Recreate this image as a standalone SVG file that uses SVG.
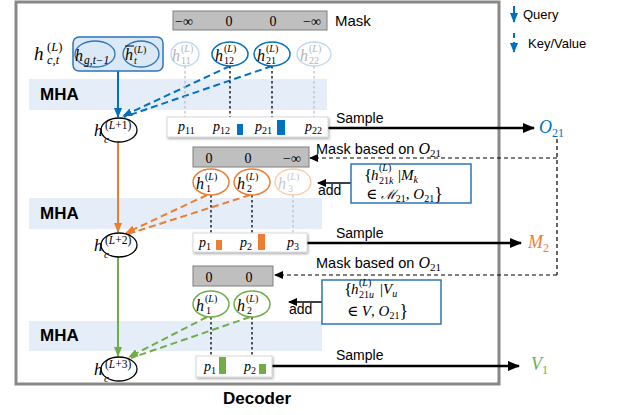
<svg xmlns="http://www.w3.org/2000/svg" width="621" height="415" viewBox="0 0 621 415">
<defs>
<marker id="mB" markerUnits="userSpaceOnUse" markerWidth="10" markerHeight="8" refX="9" refY="4" orient="auto"><path d="M0,0 L10,4 L0,8 z" fill="#0070c0"/></marker>
<marker id="mO" markerUnits="userSpaceOnUse" markerWidth="10" markerHeight="8" refX="9" refY="4" orient="auto"><path d="M0,0 L10,4 L0,8 z" fill="#ed7d31"/></marker>
<marker id="mG" markerUnits="userSpaceOnUse" markerWidth="10" markerHeight="8" refX="9" refY="4" orient="auto"><path d="M0,0 L10,4 L0,8 z" fill="#70ad47"/></marker>
<marker id="mK" markerUnits="userSpaceOnUse" markerWidth="12" markerHeight="10" refX="11" refY="5" orient="auto"><path d="M0,0 L12,5 L0,10 z" fill="#000"/></marker>
<marker id="mk" markerUnits="userSpaceOnUse" markerWidth="9" markerHeight="8" refX="8" refY="4" orient="auto"><path d="M0,0 L9,4 L0,8 z" fill="#000"/></marker>
<filter id="sh" x="-10%" y="-20%" width="130%" height="160%"><feDropShadow dx="1" dy="1.5" stdDeviation="1.2" flood-color="#000" flood-opacity="0.35"/></filter>
</defs>
<style>
.sans{font-family:"Liberation Sans",Arial,sans-serif;fill:#000}
.b{font-weight:bold}
.m{font-family:"Liberation Serif","DejaVu Serif",serif;font-style:italic}
.r{font-family:"Liberation Serif","DejaVu Serif",serif}
.band{fill:#e4edf8}
.mask{fill:#bfbfbf;stroke:#7f7f7f;stroke-width:1}
.pbox{fill:#fff;stroke:#d0d0d0;stroke-width:0.8;filter:url(#sh)}
.hc{fill:#fff;stroke:#000;stroke-width:1.3}
.dot{stroke:#000;stroke-width:1.3;stroke-dasharray:2.5,2.5;fill:none}
.dotg{stroke:#bdbdbd;stroke-width:1.3;stroke-dasharray:2.5,2.5;fill:none}
.dash{stroke:#000;stroke-width:1.2;stroke-dasharray:4,3;fill:none}
.samp{stroke:#000;stroke-width:2.5;fill:none}
.tb{fill:#fff;stroke:#2e75b6;stroke-width:1.5}
</style>
<rect x="0" y="0" width="621" height="415" fill="#fff"/>

<!-- MHA bands -->
<g id="bands">
<rect class="band" x="29" y="79" width="298" height="31"/>
<rect class="band" x="29" y="198" width="293" height="31"/>
<rect class="band" x="29" y="321" width="293" height="30"/>
<text class="sans b" x="40" y="100" font-size="17">MHA</text>
<text class="sans b" x="40" y="219" font-size="17">MHA</text>
<text class="sans b" x="40" y="341" font-size="17">MHA</text>
</g>

<!-- frame -->
<rect id="frame" x="16" y="2" width="483" height="382" fill="none" stroke="#888" stroke-width="3"/>
<text class="sans b" x="257" y="404" font-size="17" text-anchor="middle">Decoder</text>

<!-- legend -->
<g id="legend">
<line x1="514" y1="6" x2="514" y2="22" stroke="#0070c0" stroke-width="2" marker-end="url(#mB)"/>
<text class="sans" x="523" y="19" font-size="13">Query</text>
<line x1="514" y1="33" x2="514" y2="52" stroke="#0070c0" stroke-width="2" stroke-dasharray="5,4" marker-end="url(#mB)"/>
<text class="sans" x="528" y="48" font-size="13">Key/Value</text>
</g>

<!-- connectors -->
<g id="connectors">
<line x1="118" y1="71" x2="118" y2="117" stroke="#0070c0" stroke-width="2" marker-end="url(#mB)"/>
<line x1="230" y1="66" x2="123" y2="116" stroke="#0070c0" stroke-width="2" stroke-dasharray="7,4" marker-end="url(#mB)"/>
<line x1="272" y1="66" x2="124" y2="117" stroke="#0070c0" stroke-width="2" stroke-dasharray="7,4"/>
<line x1="118" y1="142" x2="118" y2="232" stroke="#ed7d31" stroke-width="2" marker-end="url(#mO)"/>
<line x1="207" y1="195" x2="126" y2="233" stroke="#ed7d31" stroke-width="2" stroke-dasharray="7,4" marker-end="url(#mO)"/>
<line x1="250" y1="195" x2="128" y2="234" stroke="#ed7d31" stroke-width="2" stroke-dasharray="7,4"/>
<line x1="118" y1="257" x2="118" y2="356" stroke="#70ad47" stroke-width="2" marker-end="url(#mG)"/>
<line x1="207" y1="317" x2="129" y2="357" stroke="#70ad47" stroke-width="2" stroke-dasharray="7,4" marker-end="url(#mG)"/>
<line x1="250" y1="317" x2="131" y2="358" stroke="#70ad47" stroke-width="2" stroke-dasharray="7,4"/>

<line class="dotg" x1="185" y1="66" x2="185" y2="117"/>
<line class="dot" x1="230" y1="66" x2="230" y2="117"/>
<line class="dot" x1="272" y1="66" x2="272" y2="117"/>
<line class="dotg" x1="314" y1="66" x2="314" y2="117"/>
<line class="dot" x1="211" y1="195" x2="211" y2="233"/>
<line class="dot" x1="252" y1="195" x2="252" y2="233"/>
<line class="dotg" x1="293" y1="195" x2="293" y2="233"/>
<line class="dot" x1="211" y1="317" x2="211" y2="356"/>
<line class="dot" x1="252" y1="317" x2="252" y2="356"/>

<line class="samp" x1="328" y1="128" x2="534" y2="128" marker-end="url(#mK)"/>
<line class="samp" x1="307" y1="243" x2="521" y2="243" marker-end="url(#mK)"/>
<line class="samp" x1="272" y1="366" x2="519" y2="366" marker-end="url(#mK)"/>

<path class="dash" d="M557,139 L557,275"/>
<line class="dash" x1="557" y1="158" x2="310" y2="158" marker-end="url(#mk)"/>
<line class="dash" x1="557" y1="275" x2="275" y2="275" marker-end="url(#mk)"/>

<line x1="351" y1="183" x2="318" y2="183" stroke="#000" stroke-width="1.5" marker-end="url(#mk)"/>
<line x1="322" y1="302" x2="289" y2="302" stroke="#000" stroke-width="1.5" marker-end="url(#mk)"/>
</g>

<!-- Row 1 -->
<g id="mask1">
<rect class="mask" x="173" y="11" width="154" height="19"/>
<text class="r" font-size="14" y="26" text-anchor="middle"><tspan x="184">−∞</tspan><tspan x="229">0</tspan><tspan x="273">0</tspan><tspan x="312">−∞</tspan></text>
<text class="sans" x="335" y="26" font-size="15">Mask</text>
</g>

<g id="hct">
<text class="m" x="34" y="60" font-size="19">h</text>
<text class="r" x="47" y="51" font-size="12.5">(<tspan font-style="italic">L</tspan>)</text>
<text class="m" x="47" y="64" font-size="12.5">c,t</text>
</g>
<g id="query1">
<rect x="73" y="37" width="90" height="34" rx="6" fill="#dbe8f6" stroke="#2e75b6" stroke-width="1.5"/>
<ellipse cx="95" cy="54" rx="20" ry="13" fill="none" stroke="#2e75b6" stroke-width="1.3"/>
<ellipse cx="141" cy="54" rx="18" ry="13" fill="none" stroke="#2e75b6" stroke-width="1.3"/>
<text class="m" x="75" y="61" font-size="16">h</text>
<text class="m" x="84" y="64" font-size="11.5">g,t−1</text>
<text class="m" x="125" y="60" font-size="16">h</text>
<line x1="125" y1="46" x2="134" y2="46" stroke="#000" stroke-width="1"/>
<text class="r" x="134" y="53" font-size="10">(<tspan font-style="italic">L</tspan>)</text>
<text class="m" x="134" y="64" font-size="10">t</text>
</g>

<g id="h11">
<ellipse cx="185" cy="54" rx="14" ry="12" fill="#fff" stroke="#bdd7ee" stroke-width="1.3"/>
<text class="m" x="172" y="61" font-size="16" fill="#b5b5b5">h</text>
<text class="r" x="181" y="52" font-size="10" fill="#b5b5b5">(<tspan font-style="italic">L</tspan>)</text>
<text class="r" x="181" y="64" font-size="10" fill="#b5b5b5">11</text>
</g>
<g id="h12">
<ellipse cx="230" cy="54" rx="18" ry="12" fill="#fff" stroke="#0070c0" stroke-width="1.5"/>
<text class="m" x="215" y="61" font-size="16">h</text>
<text class="r" x="224" y="52" font-size="10">(<tspan font-style="italic">L</tspan>)</text>
<text class="r" x="224" y="64" font-size="10">12</text>
</g>
<g id="h21">
<ellipse cx="272" cy="54" rx="18" ry="12" fill="#fff" stroke="#0070c0" stroke-width="1.5"/>
<text class="m" x="257" y="61" font-size="16">h</text>
<text class="r" x="266" y="52" font-size="10">(<tspan font-style="italic">L</tspan>)</text>
<text class="r" x="266" y="64" font-size="10">21</text>
</g>
<g id="h22">
<ellipse cx="314" cy="54" rx="17" ry="12" fill="#fff" stroke="#bdd7ee" stroke-width="1.3"/>
<text class="m" x="300" y="61" font-size="16" fill="#b5b5b5">h</text>
<text class="r" x="309" y="52" font-size="10" fill="#b5b5b5">(<tspan font-style="italic">L</tspan>)</text>
<text class="r" x="309" y="64" font-size="10" fill="#b5b5b5">22</text>
</g>

<g id="p1box">
<rect class="pbox" x="167" y="117" width="161" height="20"/>
<rect x="237" y="124" width="6" height="11" fill="#0070c0"/>
<rect x="277" y="120" width="8" height="15" fill="#0070c0"/>
<text class="m" x="178" y="131" font-size="14">p<tspan font-style="normal" font-size="10" dy="3">11</tspan></text>
<text class="m" x="213" y="131" font-size="14">p<tspan font-style="normal" font-size="10" dy="3">12</tspan></text>
<text class="m" x="255" y="131" font-size="14">p<tspan font-style="normal" font-size="10" dy="3">21</tspan></text>
<text class="m" x="305" y="131" font-size="14">p<tspan font-style="normal" font-size="10" dy="3">22</tspan></text>
</g>

<g id="hc1">
<ellipse class="hc" cx="119" cy="130" rx="18" ry="12"/>
<text class="m" x="94" y="136" font-size="17">h</text>
<text class="r" x="105" y="128.5" font-size="11.5">(<tspan font-style="italic">L</tspan>+1)</text>
<text class="m" x="104" y="143" font-size="11">c</text>
</g>

<!-- Row 2 -->
<g id="mask2">
<rect class="mask" x="193" y="147" width="116" height="20"/>
<text class="r" font-size="14" y="163" text-anchor="middle"><tspan x="209">0</tspan><tspan x="248">0</tspan><tspan x="292">−∞</tspan></text>
<text class="sans" x="316" y="154" font-size="14.5">Mask based on <tspan class="m" font-size="16">O</tspan><tspan class="r" font-size="11" dy="3">21</tspan></text>
</g>
<g id="h1o">
<ellipse cx="211" cy="182" rx="18" ry="13" fill="#fff" stroke="#ed7d31" stroke-width="1.5"/>
<text class="m" x="196" y="189" font-size="16">h</text>
<text class="r" x="205" y="180" font-size="10">(<tspan font-style="italic">L</tspan>)</text>
<text class="r" x="206" y="192" font-size="10">1</text>
</g>
<g id="h2o">
<ellipse cx="252" cy="182" rx="18" ry="13" fill="#fff" stroke="#ed7d31" stroke-width="1.5"/>
<text class="m" x="237" y="189" font-size="16">h</text>
<text class="r" x="246" y="180" font-size="10">(<tspan font-style="italic">L</tspan>)</text>
<text class="r" x="247" y="192" font-size="10">2</text>
</g>
<g id="h3o">
<ellipse cx="293" cy="182" rx="18" ry="13" fill="#fff" stroke="#f8cbad" stroke-width="1.3"/>
<text class="m" x="278" y="189" font-size="16" fill="#c8c8c8">h</text>
<text class="r" x="287" y="180" font-size="10" fill="#c8c8c8">(<tspan font-style="italic">L</tspan>)</text>
<text class="r" x="288" y="192" font-size="10" fill="#c8c8c8">3</text>
</g>
<g id="tb2">
<rect class="tb" x="351" y="164" width="120" height="39"/>
<text class="r" x="364" y="181" font-size="17">{</text>
<text class="m" x="371" y="180" font-size="15">h</text>
<text class="r" x="379" y="171" font-size="10">(<tspan font-style="italic">L</tspan>)</text>
<text class="r" x="379" y="184" font-size="10">21<tspan font-style="italic">k</tspan></text>
<text class="r" x="398" y="180" font-size="15">|<tspan class="m">M</tspan><tspan class="m" font-size="10" dy="3">k</tspan></text>
<text class="r" x="366" y="199" font-size="15">∈ <tspan font-family="DejaVu Serif,serif" font-style="italic" font-size="13">ℳ</tspan><tspan font-size="10" dy="3">21</tspan><tspan dy="-3">, </tspan><tspan class="m">O</tspan><tspan font-size="10" dy="3">21</tspan><tspan font-size="18" dy="-2">}</tspan></text>
</g>
<g id="p2box">
<rect class="pbox" x="193" y="233" width="114" height="19"/>
<rect x="216" y="240" width="6" height="10" fill="#ed7d31"/>
<rect x="258" y="234" width="7" height="16" fill="#ed7d31"/>
<text class="m" x="199" y="247" font-size="14">p<tspan font-style="normal" font-size="10" dy="3">1</tspan></text>
<text class="m" x="240" y="247" font-size="14">p<tspan font-style="normal" font-size="10" dy="3">2</tspan></text>
<text class="m" x="287" y="247" font-size="14">p<tspan font-style="normal" font-size="10" dy="3">3</tspan></text>
</g>
<g id="hc2">
<ellipse class="hc" cx="119" cy="245" rx="18" ry="12"/>
<text class="m" x="94" y="251" font-size="17">h</text>
<text class="r" x="105" y="243.5" font-size="11.5">(<tspan font-style="italic">L</tspan>+2)</text>
<text class="m" x="104" y="258" font-size="11">c</text>
</g>

<!-- Row 3 -->
<g id="mask3">
<rect class="mask" x="193" y="266" width="80" height="20"/>
<text class="r" font-size="14" y="282" text-anchor="middle"><tspan x="209">0</tspan><tspan x="249">0</tspan></text>
<text class="sans" x="316" y="268" font-size="14.5">Mask based on <tspan class="m" font-size="16">O</tspan><tspan class="r" font-size="11" dy="3">21</tspan></text>
</g>
<g id="h1g">
<ellipse cx="211" cy="304" rx="18" ry="13" fill="#fff" stroke="#70ad47" stroke-width="1.5"/>
<text class="m" x="196" y="311" font-size="16">h</text>
<text class="r" x="205" y="302" font-size="10">(<tspan font-style="italic">L</tspan>)</text>
<text class="r" x="206" y="314" font-size="10">1</text>
</g>
<g id="h2g">
<ellipse cx="252" cy="304" rx="18" ry="13" fill="#fff" stroke="#70ad47" stroke-width="1.5"/>
<text class="m" x="237" y="311" font-size="16">h</text>
<text class="r" x="246" y="302" font-size="10">(<tspan font-style="italic">L</tspan>)</text>
<text class="r" x="247" y="314" font-size="10">2</text>
</g>
<g id="tb3">
<rect class="tb" x="322" y="280" width="119" height="44"/>
<text class="r" x="344" y="295" font-size="17">{</text>
<text class="m" x="351" y="294" font-size="15">h</text>
<text class="r" x="359" y="286" font-size="10">(<tspan font-style="italic">L</tspan>)</text>
<text class="r" x="359" y="298" font-size="10">21<tspan font-style="italic">u</tspan></text>
<text class="r" x="380" y="294" font-size="15">|<tspan class="m">V</tspan><tspan class="m" font-size="10" dy="3">u</tspan></text>
<text class="r" x="347" y="316" font-size="15">∈ <tspan class="m">V</tspan>, <tspan class="m">O</tspan><tspan font-size="10" dy="3">21</tspan><tspan font-size="18" dy="-2">}</tspan></text>
</g>
<g id="p3box">
<rect class="pbox" x="196" y="356" width="76" height="21"/>
<rect x="219" y="357" width="7" height="17" fill="#70ad47"/>
<rect x="259" y="364" width="7" height="10" fill="#70ad47"/>
<text class="m" x="204" y="371" font-size="14">p<tspan font-style="normal" font-size="10" dy="3">1</tspan></text>
<text class="m" x="244" y="371" font-size="14">p<tspan font-style="normal" font-size="10" dy="3">2</tspan></text>
</g>
<g id="hc3">
<ellipse class="hc" cx="119" cy="369" rx="18" ry="12"/>
<text class="m" x="94" y="375" font-size="17">h</text>
<text class="r" x="105" y="367.5" font-size="11.5">(<tspan font-style="italic">L</tspan>+3)</text>
<text class="m" x="104" y="382" font-size="11">c</text>
</g>

<!-- outputs -->
<g id="outs">
<text class="m" x="539" y="133" font-size="18" fill="#0070c0">O<tspan font-style="normal" font-size="12" dy="4">21</tspan></text>
<text class="m" x="528" y="248" font-size="18" fill="#ed7d31">M<tspan font-style="normal" font-size="12" dy="4">2</tspan></text>
<text class="m" x="531" y="370" font-size="18" fill="#70ad47">V<tspan font-style="normal" font-size="12" dy="4">1</tspan></text>
<text class="sans" x="336" y="123" font-size="14">Sample</text>
<text class="sans" x="336" y="238" font-size="14">Sample</text>
<text class="sans" x="336" y="360" font-size="14">Sample</text>
<text class="sans" x="318" y="195" font-size="14">add</text>
<text class="sans" x="289" y="314" font-size="14">add</text>
</g>
</svg>
